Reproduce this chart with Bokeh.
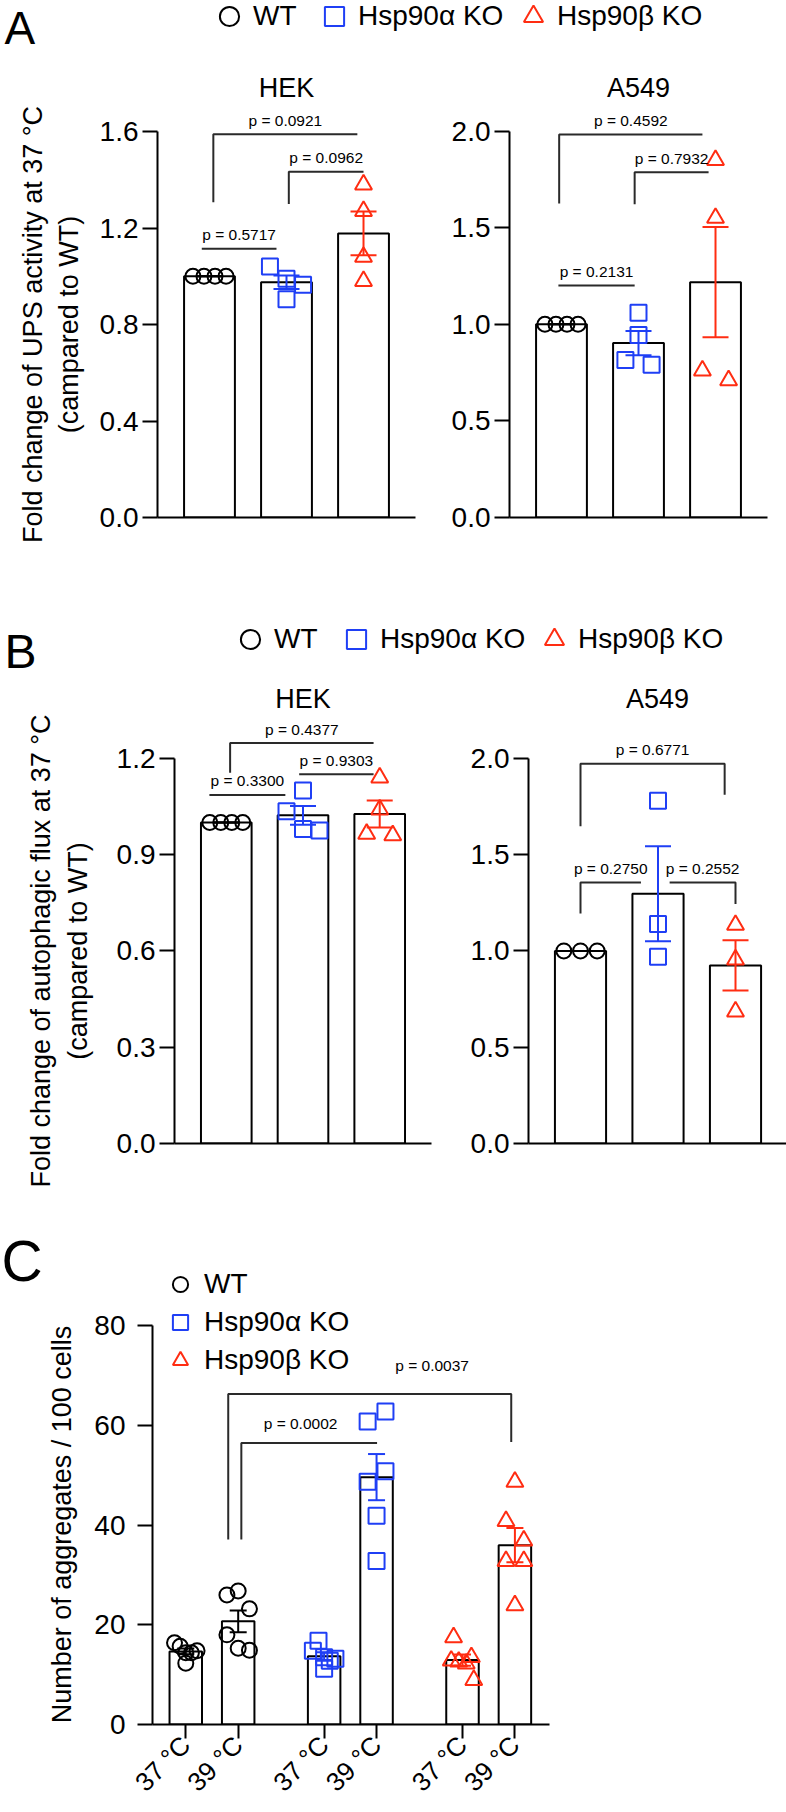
import math
import numpy as np
from bokeh.plotting import figure
from bokeh.models import (Range1d, FixedTicker, Label, Legend, LegendItem,
                          ColumnDataSource, Whisker, TeeHead, PrintfTickFormatter)
from bokeh.layouts import column, row
from bokeh.embed import file_html
from bokeh.resources import INLINE
from bokeh.core.properties import value

FONT = "Liberation Sans"

# ---------------- data ----------------
groups = ["WT", "Hsp90α KO", "Hsp90β KO"]
markers = ["circle", "square", "triangle"]
colors = ["#000000", "#1f3ff5", "#ff2d12"]
marker_sizes = [15, 16, 17]

# Panel A: UPS activity at 37 °C (fold change vs WT)
ups_hek_wt = [1.0, 1.0, 1.0, 1.0]
ups_hek_a = [1.04, 0.99, 0.965, 0.905]
ups_hek_b = [1.38, 1.27, 1.08, 0.98]
ups_a549_wt = [1.0, 1.0, 1.0, 1.0]
ups_a549_a = [1.06, 0.945, 0.815, 0.79]
ups_a549_b = [1.85, 1.55, 0.76, 0.71]

# Panel B: autophagic flux at 37 °C (fold change vs WT)
flux_hek_wt = [1.0, 1.0, 1.0, 1.0]
flux_hek_a = [1.10, 1.035, 0.98, 0.975]
flux_hek_b = [1.14, 1.04, 0.965, 0.96]
flux_a549_wt = [1.0, 1.0, 1.0]
flux_a549_a = [1.78, 1.14, 0.97]
flux_a549_b = [1.135, 0.955, 0.685]

# Panel C: aggregates per 100 cells
temps = ["37 °C", "39 °C"]
agg_wt_37 = [16.4, 15.7, 14.4, 14.4, 14.8, 12.3]
agg_wt_39 = [26.0, 26.8, 23.2, 18.0, 15.3, 14.9]
agg_a_37 = [14.8, 16.8, 13.5, 12.8, 11.2, 13.2]
agg_a_39 = [60.8, 62.8, 48.7, 50.8, 41.9, 32.8]
agg_b_37 = [17.5, 13.5, 12.8, 12.6, 12.2, 8.9]
agg_b_39 = [48.7, 40.8, 36.9, 32.8, 32.8, 23.9]
agg = {("WT", "37 °C"): agg_wt_37, ("WT", "39 °C"): agg_wt_39,
       ("Hsp90α KO", "37 °C"): agg_a_37, ("Hsp90α KO", "39 °C"): agg_a_39,
       ("Hsp90β KO", "37 °C"): agg_b_37, ("Hsp90β KO", "39 °C"): agg_b_39}

# p-value brackets: (label, x start, x end, line height, left leg bottom, right leg bottom)
br_ups_hek = [("p = 0.0921", 1.05, 2.92, 1.589, 1.307, None),
              ("p = 0.0962", 2.03, 3.00, 1.433, 1.300, None),
              ("p = 0.5717", 0.90, 1.87, 1.114, None, None)]
br_ups_a549 = [("p = 0.4592", 0.97, 2.83, 1.982, 1.625, None),
               ("p = 0.7932", 1.95, 2.91, 1.786, 1.621, None),
               ("p = 0.2131", 0.96, 1.95, 1.201, None, None)]
br_flux_hek = [("p = 0.4377", 1.05, 2.92, 1.2475, 1.155, None),
               ("p = 0.9303", 1.95, 2.92, 1.150, None, None),
               ("p = 0.3300", 0.78, 1.77, 1.086, None, None)]
br_flux_a549 = [("p = 0.6771", 1.00, 2.86, 1.972, 1.648, 1.811),
                ("p = 0.2750", 1.00, 1.78, 1.355, 1.194, None),
                ("p = 0.2552", 2.15, 3.00, 1.355, None, 1.244)]
# panel C brackets: ends given as (group, temperature, offset); label anchor likewise + label height
br_agg = [("p = 0.0002", ("WT", "39 °C", 0.06), ("Hsp90α KO", "39 °C", 0.01), 56.5, 37.1, None,
           ("Hsp90α KO", "37 °C", -0.45), 60.3),
          ("p = 0.0037", ("WT", "39 °C", -0.19), ("Hsp90β KO", "39 °C", -0.07), 66.3, 37.1, 56.7,
           ("Hsp90β KO", "37 °C", -0.58), 72.0)]


# ---------------- helpers ----------------
def mean(v):
    return sum(v) / len(v)


def sem(v):
    m = mean(v)
    n = len(v)
    return math.sqrt(sum((x - m) ** 2 for x in v) / (n - 1)) / math.sqrt(n)


def swarm(vals, px_per_unit, thr=20.0, step=0.34, width=0.43):
    """Deterministic beeswarm: points closer than thr pixels share a row and are spread."""
    order = sorted(range(len(vals)), key=lambda i: -vals[i])
    clusters = []
    for i in order:
        if clusters and (vals[clusters[-1][0]] - vals[i]) * px_per_unit < thr:
            clusters[-1].append(i)
        else:
            clusters.append([i])
    offs = [0.0] * len(vals)
    for cl in clusters:
        k = len(cl)
        if k == 1:
            continue
        s = min(step, width / (k - 1))
        for j, i in enumerate(sorted(cl)):
            offs[i] = (j - (k - 1) / 2) * s
    return offs


def base_fig(w, h, xr, yr, bl, br, bt, bb, title=None):
    p = figure(width=w, height=h, x_range=xr, y_range=yr,
               min_border_left=bl, min_border_right=br, min_border_top=bt, min_border_bottom=bb,
               toolbar_location=None, output_backend="svg", title=title, frame_align=False)
    p.outline_line_color = None
    p.grid.visible = False
    p.background_fill_color = "white"
    p.border_fill_color = "white"
    if title:
        p.title.align = "center"
        p.title.text_font = FONT
        p.title.text_font_size = "27px"
        p.title.text_font_style = "normal"
        p.title.text_color = "black"
        p.title.standoff = 6
    return p


def blank_fig(w, h):
    p = figure(width=w, height=h, x_range=Range1d(0, 1), y_range=Range1d(0, 1),
               x_axis_location=None, y_axis_location=None,
               min_border_left=0, min_border_right=0, min_border_top=0, min_border_bottom=0,
               toolbar_location=None, output_backend="svg", frame_align=False)
    p.title.visible = False
    p.outline_line_color = None
    p.grid.visible = False
    p.background_fill_color = "white"
    p.border_fill_color = "white"
    return p


def style_yaxis(p, ticks, fmt, standoff):
    ax = p.yaxis[0]
    ax.ticker = FixedTicker(ticks=ticks)
    ax.bounds = (ticks[0], ticks[-1])
    ax.formatter = PrintfTickFormatter(format=fmt)
    ax.axis_line_width = 2
    ax.axis_line_color = "black"
    ax.major_tick_line_width = 2
    ax.major_tick_line_color = "black"
    ax.major_tick_out = 15
    ax.major_tick_in = 0
    ax.minor_tick_line_color = None
    ax.major_label_text_font = FONT
    ax.major_label_text_font_size = "28px"
    ax.major_label_text_color = "black"
    ax.major_label_standoff = standoff


def add_whisker(p, base, m, e, color, head):
    src = ColumnDataSource(dict(base=[base], lower=[m - e], upper=[m + e]))
    wk = Whisker(source=src, base="base", lower="lower", upper="upper", dimension="height",
                 line_color=color, line_width=2, level="annotation",
                 upper_head=TeeHead(size=head, line_color=color, line_width=2),
                 lower_head=TeeHead(size=head, line_color=color, line_width=2))
    p.add_layout(wk)


def draw_brackets(p, specs, xmap=lambda x: x, text_offset=-14):
    xs, ys = [], []
    for spec in specs:
        lab, x1, x2, y, l1, l2 = spec[:6]
        x1, x2 = xmap(x1), xmap(x2)
        px, py = [], []
        if l1 is not None:
            px.append(x1); py.append(l1)
        px += [x1, x2]; py += [y, y]
        if l2 is not None:
            px.append(x2); py.append(l2)
        xs.append(px); ys.append(py)
    p.multi_line(xs=xs, ys=ys, line_color="#2a2a2a", line_width=2)
    labels = [s[0] for s in specs]
    if len(specs[0]) > 6:
        tx = [xmap(s[6]) for s in specs]
        ty = [s[7] for s in specs]
        p.text(x=tx, y=ty, text=labels, text_font=value(FONT), text_font_size=value("15.5px"),
               text_align="center", text_baseline="middle", text_color="black")
    else:
        tx = [(xmap(s[1]) + xmap(s[2])) / 2 for s in specs]
        ty = [s[3] for s in specs]
        p.text(x=tx, y=ty, text=labels, text_font=value(FONT), text_font_size=value("15.5px"),
               text_align="center", text_baseline="middle", text_color="black", y_offset=text_offset)


def bar_panel(title, series, yticks, ytop, brackets, geom, xr):
    w, h, bl, br, bt, bb = geom
    p = base_fig(w, h, Range1d(*xr), Range1d(0, ytop), bl, br, bt, bb, title=title)
    ppu = (h - bt - bb) / ytop
    xs = [i + 1 for i in range(len(groups))]
    p.vbar(x=xs, top=[mean(s) for s in series], width=0.66,
           fill_color="white", line_color="black", line_width=2)
    for i, s in enumerate(series):
        offs = swarm(s, ppu)
        p.scatter(x=[xs[i] + o for o in offs], y=s, marker=markers[i], size=marker_sizes[i],
                  line_color=colors[i], fill_alpha=0, line_width=2)
        add_whisker(p, xs[i], mean(s), sem(s), colors[i], 26)
    draw_brackets(p, brackets)
    style_yaxis(p, yticks, "%.1f", 4)
    xa = p.xaxis[0]
    xa.ticker = FixedTicker(ticks=[])
    xa.axis_line_width = 2
    xa.axis_line_color = "black"
    xa.major_tick_line_color = None
    xa.minor_tick_line_color = None
    return p


def vtext(p, text, x, y):
    p.add_layout(Label(x=x, y=y, x_units="screen", y_units="screen", text=text,
                       angle=90, angle_units="deg", text_align="center", text_baseline="middle",
                       text_font=FONT, text_font_size="27px", text_color="black"))


def ylabel_fig(w, h, lines, xs, y):
    p = blank_fig(w, h)
    for t, x in zip(lines, xs):
        vtext(p, t, x, y)
    return p


def letter(p, text, size, x, y):
    p.add_layout(Label(x=x, y=y, x_units="screen", y_units="screen", text=text,
                       text_font=FONT, text_font_size=size, text_baseline="middle",
                       text_line_height=1.0, text_color="black"))


def legend_strip(h, item_x, leg_y):
    p = blank_fig(786, h)
    for g, m, c, sz, lx in zip(groups, markers, colors, marker_sizes, item_x):
        r = p.scatter(x=np.array([np.nan]), y=np.array([np.nan]), marker=m, size=sz,
                      line_color=c, fill_alpha=0, line_width=2)
        leg = Legend(items=[LegendItem(label=g, renderers=[r])], location=(lx, leg_y),
                     glyph_width=48, glyph_height=48, label_standoff=-5,
                     padding=0, margin=0, border_line_color=None, background_fill_alpha=0,
                     label_text_font=FONT, label_text_font_size="28px", label_text_color="black")
        p.add_layout(leg)
    return p


# ---------------- panel A ----------------
stripA = legend_strip(56, [205, 310, 509], 16.5)
letter(stripA, "A", "46px", 4, 28.5)
labA = ylabel_fig(95, 504, ["Fold change of UPS activity at 37 °C", "(campared to WT)"], [32.5, 68.3], 236)
pA1 = bar_panel("HEK", [ups_hek_wt, ups_hek_a, ups_hek_b], [0, 0.4, 0.8, 1.2, 1.6], 412 / 241.25,
                br_ups_hek, (330, 504, 62, 10, 49, 43), (0.325, 3.675))
pA2 = bar_panel("A549", [ups_a549_wt, ups_a549_a, ups_a549_b], [0, 0.5, 1.0, 1.5, 2.0], 412 / 193.25,
                br_ups_a549, (361, 504, 84, 19, 49, 43), (0.325, 3.675))

# ---------------- panel B ----------------
stripB = legend_strip(118, [226, 332, 530], 15)
letter(stripB, "B", "48px", 4, 27)
labB = ylabel_fig(100, 522, ["Fold change of autophagic flux at 37 °C", "(campared to WT)"], [40, 77.5], 249.5)
pB1 = bar_panel("HEK", [flux_hek_wt, flux_hek_a, flux_hek_b], [0, 0.3, 0.6, 0.9, 1.2], 427 / 321.0,
                br_flux_hek, (340, 522, 74, 9, 38, 57), (0.325, 3.675))
pB2 = bar_panel("A549", [flux_a549_wt, flux_a549_a, flux_a549_b], [0, 0.5, 1.0, 1.5, 2.0], 427 / 192.55,
                br_flux_a549, (346, 522, 88, 0, 38, 57), (0.329, 3.658))

# ---------------- panel C ----------------
group_gap = 0.64


def xpos(key):
    g, t = key[0], key[1]
    off = key[2] if len(key) > 2 else 0.0
    return groups.index(g) * (len(temps) + group_gap) + temps.index(t) + off


factors = [(g, t) for g in groups for t in temps]
ticksC = [xpos(f) for f in factors]
C_W, C_H, C_BL, C_BR, C_BT, C_BB = 480, 612, 64, 19, 62, 88
ppuC = 4.984
pC = base_fig(C_W, C_H, Range1d(ticksC[0] - 0.635, ticksC[-1] + 0.66),
              Range1d(0, (C_H - C_BT - C_BB) / ppuC), C_BL, C_BR, C_BT, C_BB)
pC.vbar(x=ticksC, top=[mean(agg[f]) for f in factors], width=0.62,
        fill_color="white", line_color="black", line_width=2)
leg_renderers = {}
for f, xc in zip(factors, ticksC):
    gi = groups.index(f[0])
    vals = agg[f]
    offs = swarm(vals, ppuC)
    r = pC.scatter(x=[xc + o for o in offs], y=vals, marker=markers[gi], size=marker_sizes[gi],
                   line_color=colors[gi], fill_alpha=0, line_width=2)
    leg_renderers.setdefault(f[0], r)
    add_whisker(pC, xc, mean(vals), sem(vals), colors[gi], 17)
draw_brackets(pC, br_agg, xmap=xpos)
style_yaxis(pC, [0, 20, 40, 60, 80], "%d", 12)
xa = pC.xaxis[0]
xa.ticker = FixedTicker(ticks=ticksC)
xa.major_label_overrides = {xc: f[1] for xc, f in zip(ticksC, factors)}
xa.axis_line_width = 2
xa.axis_line_color = "black"
xa.major_tick_line_width = 2
xa.major_tick_line_color = "black"
xa.major_tick_out = 14
xa.major_tick_in = 0
xa.minor_tick_line_color = None
xa.major_label_orientation = math.pi / 4
xa.major_label_text_font = FONT
xa.major_label_text_font_size = "26px"
xa.major_label_text_color = "black"
xa.major_label_standoff = 2
legC = Legend(items=[LegendItem(label=g, renderers=[leg_renderers[g]]) for g in groups],
              orientation="vertical", location=(4, 345), glyph_width=48, glyph_height=38,
              label_standoff=-5, spacing=0, padding=0, margin=0, border_line_color=None,
              background_fill_alpha=0, label_text_font=FONT, label_text_font_size="28px",
              label_text_color="black")
pC.add_layout(legC)
labC = ylabel_fig(88, C_H, ["Number of aggregates / 100 cells"], [61], 288)
letter(labC, "C", "57px", 1, 552)

layout = column(stripA, row(labA, pA1, pA2), stripB, row(labB, pB1, pB2), row(labC, pC))
open("out.html", "w").write(file_html(layout, INLINE))
